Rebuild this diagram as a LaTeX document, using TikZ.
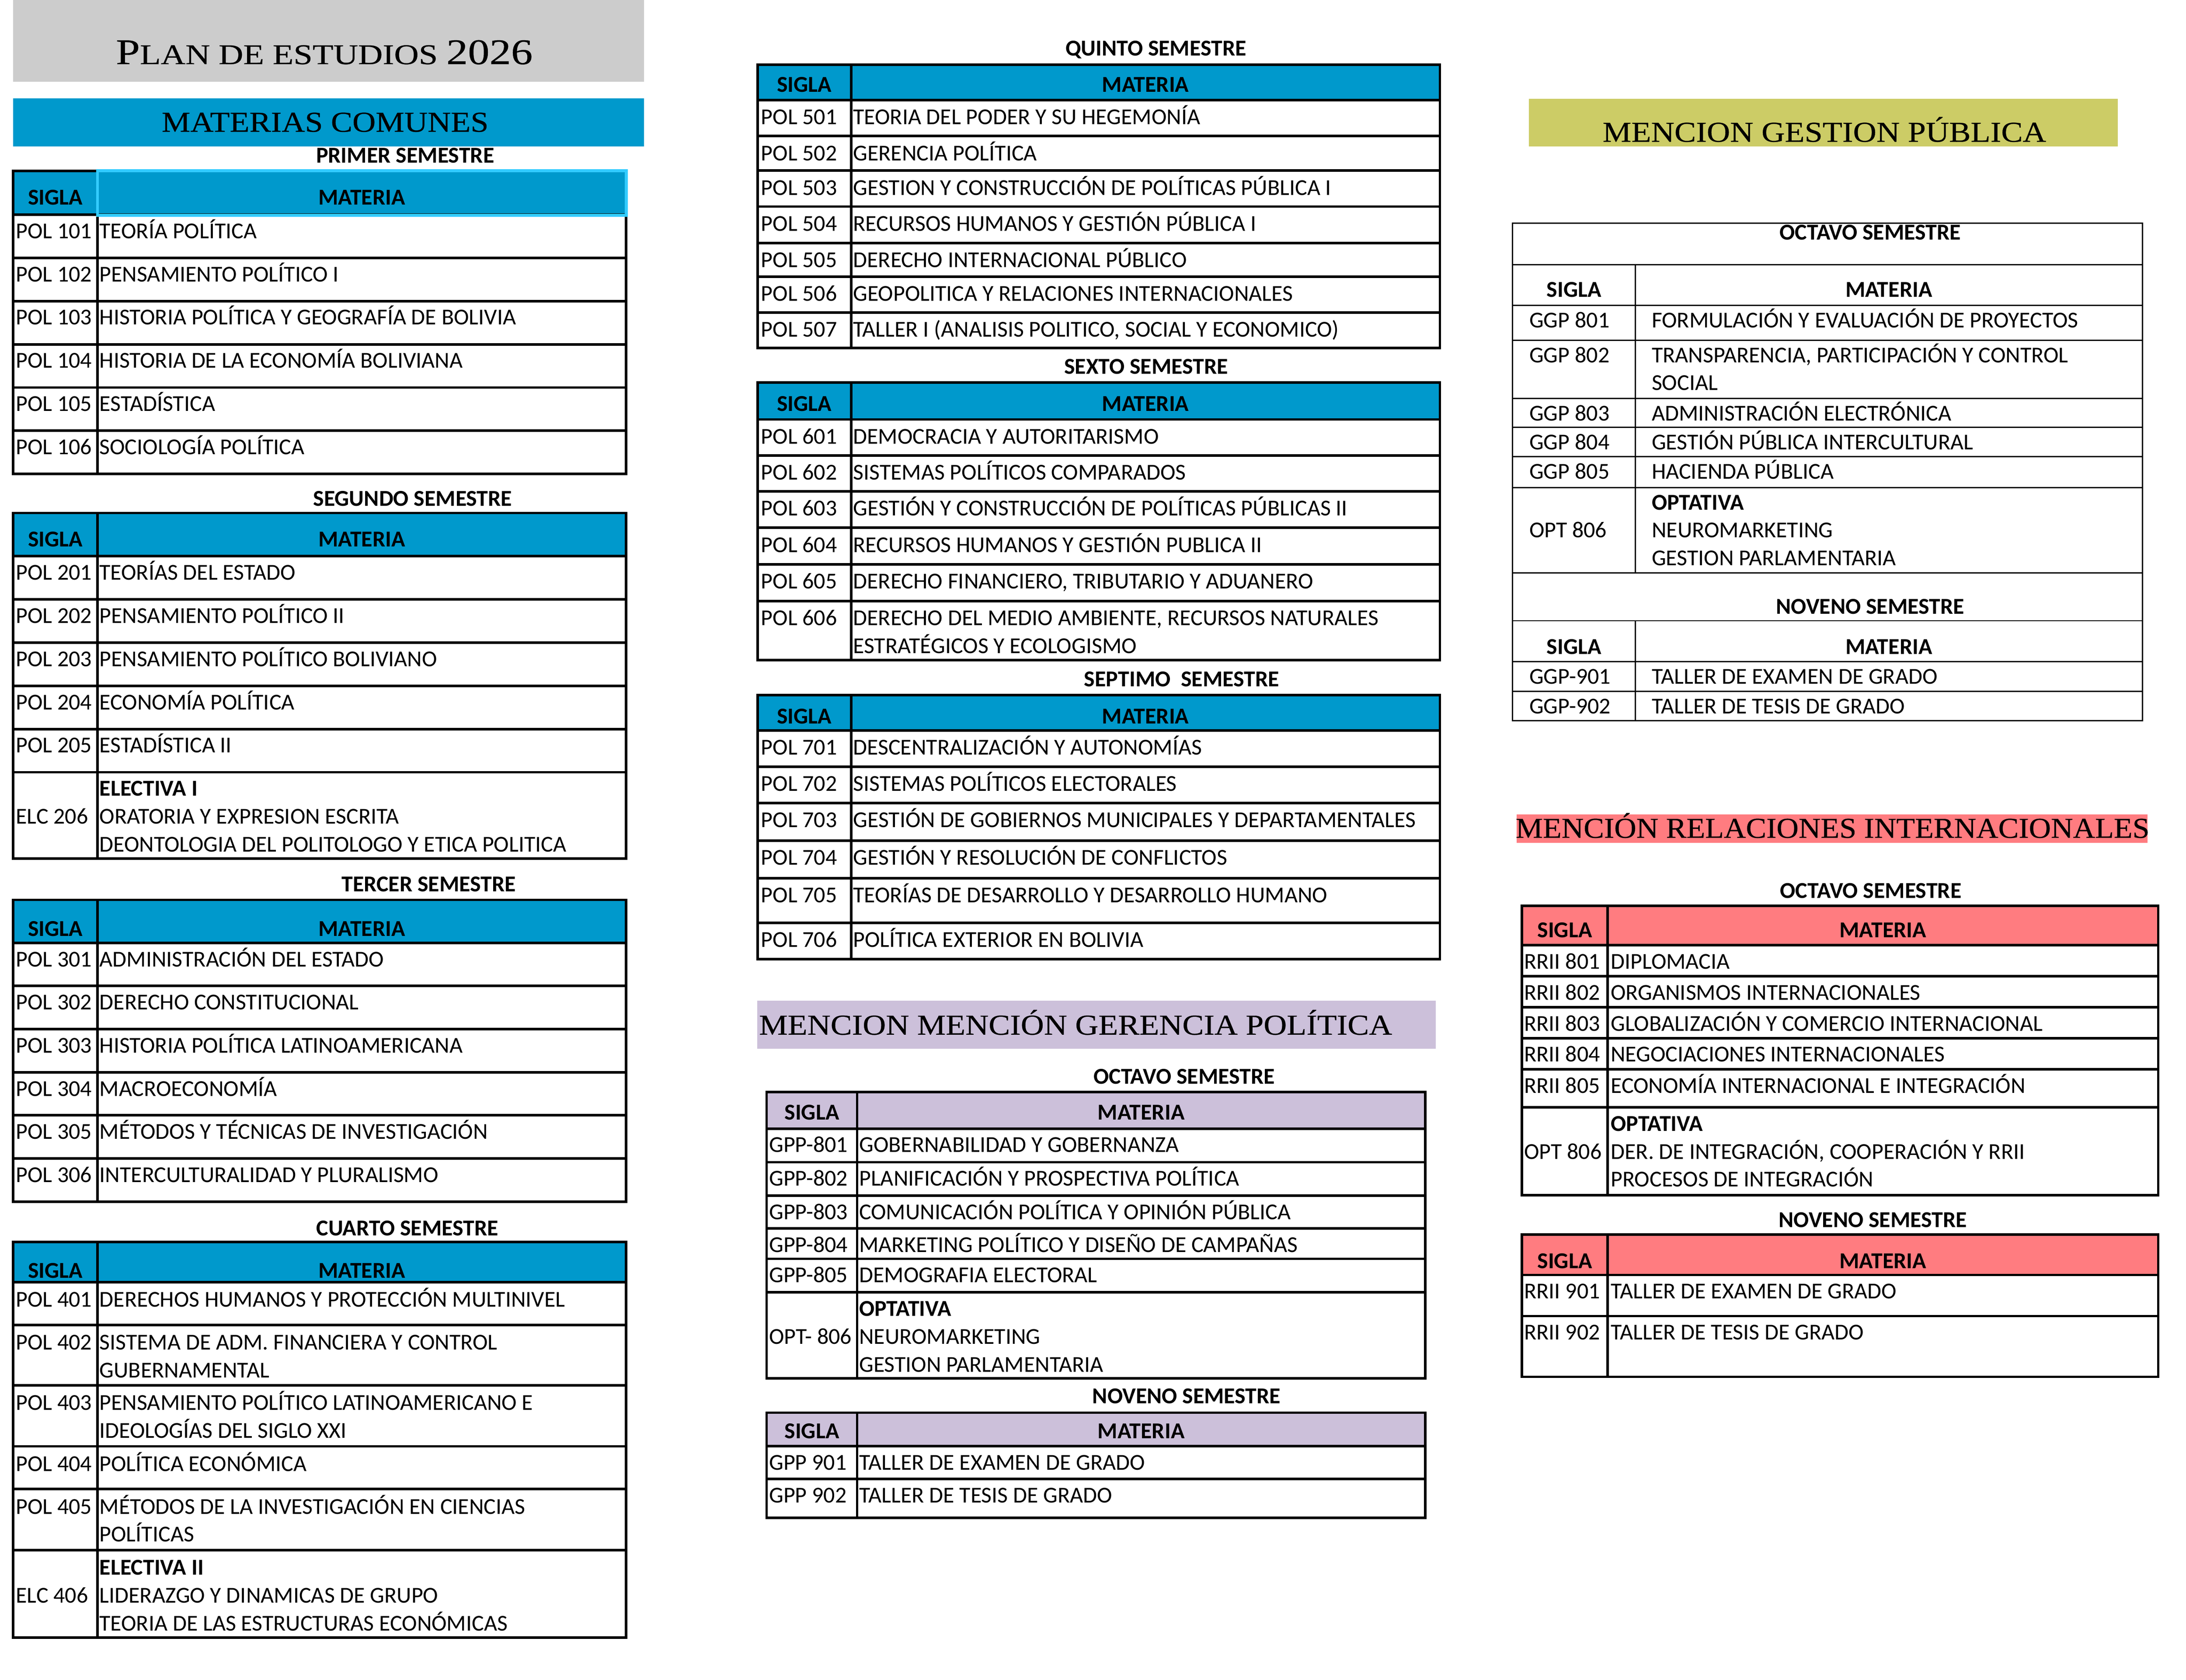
\documentclass[tikz,border=0pt]{standalone}
\usepackage{fontspec}
\setmainfont{Carlito}
\newfontfamily\serifh[FakeBold=0.4]{Liberation Serif}
\usepackage{graphicx}
\usepackage{tikz}

\definecolor{grisplan}{HTML}{CCCCCC}
\definecolor{azul}{HTML}{0099CC}
\definecolor{celeste}{HTML}{33CCFF}
\definecolor{oliva}{HTML}{CCCC66}
\definecolor{lila}{HTML}{CCC0DA}
\definecolor{rosa}{HTML}{FF7C80}

\tikzset{
  rejilla/.style={draw=black, line width=1.8pt},
  fina/.style={draw=black, line width=0.9pt},
  linea/.style={rejilla},
  txt/.style={anchor=base west, inner sep=0pt, font=\fontsize{16.3}{20}\selectfont},
  cab/.style={anchor=base, inner sep=0pt, font=\bfseries\fontsize{16.3}{20}\selectfont},
  banda/.style={anchor=base, inner sep=0pt, font=\serifh\fontsize{20.7}{24}\selectfont}
}

\newcommand{\dos}[2]{\vtop{\hbox{#1}\hbox{#2}}}
\newcommand{\tres}[3]{\vtop{\hbox{#1}\hbox{#2}\hbox{#3}}}
% cabecera SIGLA / MATERIA
\newcommand{\cabecera}[4]{%
  \filldraw[linea, fill=\relleno] (\xa,#2) rectangle (\xb,#3) (\xb,#2) rectangle (\xc,#3);
  \node[cab] (#1s) at ({(\xa+\xb)/2},#4) {SIGLA};
  \node[cab] (#1m) at ({(\xb+\xc)/2},#4) {MATERIA};
}
% una fila: [extra sigla] nombre, arriba, abajo, sigla, materia
\newcommand{\fila}[6][0]{%
  \draw[linea] (\xa,#3) rectangle (\xb,#4) (\xb,#3) rectangle (\xc,#4);
  \node[txt] (#2s) at (\xa+\dsig,#3+\dy+#1) {#5};
  \node[txt] (#2m) at (\xb+\dmat,#3+\dy) {#6};
}

\begin{document}
\begin{tikzpicture}[x=1pt,y=-1pt]
\useasboundingbox (0,0) rectangle (1568,1205);

% titulo y materias comunes
\fill[grisplan] (9.4,0) rectangle (461.9,58.7);
\node[anchor=base, inner sep=0pt] (titulo) at (232.6,46) {\serifh\scalebox{1.195}[1]{\fontsize{25.9}{30}\selectfont P\fontsize{20.5}{24}\selectfont LAN DE ESTUDIOS \fontsize{25.9}{30}\selectfont 2026}};
\fill[azul] (9.4,70.5) rectangle (461.9,105.1);
\node[banda] (comunes) at (233.2,94.5) {\scalebox{1.117}[1]{MATERIAS COMUNES}};

\def\xa{9.4}\def\xb{70}\def\xc{449}\def\dsig{1.8}\def\dmat{1.2}\def\dy{17}\def\relleno{azul}
\node[cab] (sem1) at (290.6,116.9) {PRIMER SEMESTRE};
\cabecera{t1}{122.5}{154}{147}
\foreach \ya/\yb/\s/\m [count=\i] in {154/185/POL 101/TEORÍA POLÍTICA, 185/216/POL 102/PENSAMIENTO POLÍTICO I,
  216/247/POL 103/HISTORIA POLÍTICA Y GEOGRAFÍA DE BOLIVIA, 247/278/POL 104/HISTORIA DE LA ECONOMÍA BOLIVIANA,
  278/309/POL 105/ESTADÍSTICA, 309/340/POL 106/SOCIOLOGÍA POLÍTICA}
  {\fila{t1r\i}{\ya}{\yb}{\s}{\m}}
\draw[celeste, line width=2pt] (70,122.5) rectangle (449.2,154.4);

\node[cab] (sem2) at (296,363) {SEGUNDO SEMESTRE};
\cabecera{t2}{368}{399}{392}
\foreach \ya/\yb/\s/\m [count=\i] in {399/430/POL 201/TEORÍAS DEL ESTADO, 430/461/POL 202/PENSAMIENTO POLÍTICO II,
  461/492/POL 203/PENSAMIENTO POLÍTICO BOLIVIANO, 492/523/POL 204/ECONOMÍA POLÍTICA, 523/554/POL 205/ESTADÍSTICA II}
  {\fila{t2r\i}{\ya}{\yb}{\s}{\m}}
\fila[20]{t2r6}{554}{616}{ELC 206}{\tres{\textbf{ELECTIVA I}}{ORATORIA Y EXPRESION ESCRITA}{DEONTOLOGIA DEL POLITOLOGO Y ETICA POLITICA}}

\node[cab] (sem3) at (307.5,639.5) {TERCER SEMESTRE};
\cabecera{t3}{645.5}{676.5}{671.7}
\foreach \ya/\yb/\s/\m [count=\i] in {676.5/707.2/POL 301/ADMINISTRACIÓN DEL ESTADO, 707.2/738.2/POL 302/DERECHO CONSTITUCIONAL,
  738.2/769.3/POL 303/HISTORIA POLÍTICA LATINOAMERICANA, 769.3/800/POL 304/MACROECONOMÍA,
  800/831/POL 305/MÉTODOS Y TÉCNICAS DE INVESTIGACIÓN, 831/862.1/POL 306/INTERCULTURALIDAD Y PLURALISMO}
  {\fila{t3r\i}{\ya}{\yb}{\s}{\m}}

\node[cab] (sem4) at (292.2,886.5) {CUARTO SEMESTRE};
\def\dy{17.8}
\cabecera{t4}{890.9}{919.7}{916.7}
\foreach \ya/\yb/\s/\m [count=\i] in {919.7/950.4/POL 401/DERECHOS HUMANOS Y PROTECCIÓN MULTINIVEL,
  950.4/993.8/POL 402/{\dos{SISTEMA DE ADM. FINANCIERA Y CONTROL}{GUBERNAMENTAL}},
  993.8/1037.5/POL 403/{\dos{PENSAMIENTO POLÍTICO LATINOAMERICANO E}{IDEOLOGÍAS DEL SIGLO XXI}},
  1037.5/1068.2/POL 404/POLÍTICA ECONÓMICA,
  1068.2/1112/POL 405/{\dos{MÉTODOS DE LA INVESTIGACIÓN EN CIENCIAS}{POLÍTICAS}}}
  {\fila{t4r\i}{\ya}{\yb}{\s}{\m}}
\fila[20]{t4r6}{1112}{1174.8}{ELC 406}{\tres{\textbf{ELECTIVA II}}{LIDERAZGO Y DINAMICAS DE GRUPO}{TEORIA DE LAS ESTRUCTURAS ECONÓMICAS}}

% quinto a septimo
\def\xa{543.4}\def\xb{610.5}\def\xc{1032.8}\def\dsig{2.3}\def\dmat{1.3}\def\dy{17.5}
\node[cab] (sem5) at (829.1,40) {QUINTO SEMESTRE};
\cabecera{t5}{46.3}{71.8}{66}
\foreach \ya/\yb/\s/\m [count=\i] in {71.8/97.6/POL 501/TEORIA DEL PODER Y SU HEGEMONÍA, 97.6/122.4/POL 502/GERENCIA POLÍTICA,
  122.4/148.2/POL 503/GESTION Y CONSTRUCCIÓN DE POLÍTICAS PÚBLICA I, 148.2/174.3/POL 504/RECURSOS HUMANOS Y GESTIÓN PÚBLICA I,
  174.3/198.4/POL 505/DERECHO INTERNACIONAL PÚBLICO, 198.4/224.2/POL 506/GEOPOLITICA Y RELACIONES INTERNACIONALES,
  224.2/249.7/POL 507/{TALLER I (ANALISIS POLITICO, SOCIAL Y ECONOMICO)}}
  {\fila{t5r\i}{\ya}{\yb}{\s}{\m}}

\node[cab] (sem6) at (822.1,268.2) {SEXTO SEMESTRE};
\cabecera{t6}{274.5}{300.9}{295}
\foreach \ya/\yb/\s/\m [count=\i] in {300.9/326.7/POL 601/DEMOCRACIA Y AUTORITARISMO, 326.7/352.5/POL 602/SISTEMAS POLÍTICOS COMPARADOS,
  352.5/378.6/POL 603/GESTIÓN Y CONSTRUCCIÓN DE POLÍTICAS PÚBLICAS II, 378.6/404.8/POL 604/RECURSOS HUMANOS Y GESTIÓN PUBLICA II,
  404.8/431.2/POL 605/{DERECHO FINANCIERO, TRIBUTARIO Y ADUANERO},
  431.2/473.6/POL 606/{\dos{DERECHO DEL MEDIO AMBIENTE, RECURSOS NATURALES}{ESTRATÉGICOS Y ECOLOGISMO}}}
  {\fila{t6r\i}{\ya}{\yb}{\s}{\m}}

\node[cab] (sem7) at (847.6,492.4) {SEPTIMO\ \ SEMESTRE};
\cabecera{t7}{498.7}{524}{519}
\foreach \ya/\yb/\s/\m [count=\i] in {524/550/POL 701/DESCENTRALIZACIÓN Y AUTONOMÍAS, 550/576/POL 702/SISTEMAS POLÍTICOS ELECTORALES,
  576/603/POL 703/GESTIÓN DE GOBIERNOS MUNICIPALES Y DEPARTAMENTALES, 603/630/POL 704/GESTIÓN Y RESOLUCIÓN DE CONFLICTOS,
  630/662/POL 705/TEORÍAS DE DESARROLLO Y DESARROLLO HUMANO, 662/688/POL 706/POLÍTICA EXTERIOR EN BOLIVIA}
  {\fila{t7r\i}{\ya}{\yb}{\s}{\m}}

% mencion gerencia politica
\fill[lila] (543.3,717.9) rectangle (1029.9,752.3);
\node[banda, anchor=base west] (gerencia) at (544.3,742.2) {\scalebox{1.114}[1]{MENCION MENCIÓN GERENCIA POLÍTICA}};
\def\xa{549.9}\def\xb{614.8}\def\xc{1022.3}\def\dsig{1.6}\def\dy{17}\def\relleno{lila}
\node[cab] (gp8) at (849.4,777.6) {OCTAVO SEMESTRE};
\cabecera{gp8h}{783.3}{809.6}{803.4}
\foreach \ya/\yb/\s/\m [count=\i] in {809.6/833.7/GPP-801/GOBERNABILIDAD Y GOBERNANZA, 833.7/857.7/GPP-802/PLANIFICACIÓN Y PROSPECTIVA POLÍTICA,
  857.7/881.2/GPP-803/COMUNICACIÓN POLÍTICA Y OPINIÓN PÚBLICA, 881.2/903/GPP-804/MARKETING POLÍTICO Y DISEÑO DE CAMPAÑAS,
  903/927.1/GPP-805/DEMOGRAFIA ELECTORAL}
  {\fila{gp8r\i}{\ya}{\yb}{\s}{\m}}
\fila[20]{gp8r6}{927.1}{988.8}{OPT- 806}{\tres{\textbf{OPTATIVA}}{NEUROMARKETING}{GESTION PARLAMENTARIA}}

\node[cab] (gp9) at (851.1,1006.8) {NOVENO SEMESTRE};
\cabecera{gp9h}{1013.4}{1037.4}{1031.8}
\fila{gp9r1}{1037.4}{1060.9}{GPP 901}{TALLER DE EXAMEN DE GRADO}
\fila{gp9r2}{1060.9}{1088.9}{GPP 902}{TALLER DE TESIS DE GRADO}

% mencion gestion publica
\fill[oliva] (1096.8,70.9) rectangle (1519.1,105);
\node[banda] (gestion) at (1308.6,101.7) {\scalebox{1.12}[1]{MENCION GESTION PÚBLICA}};
\begin{scope}[linea/.style={fina}]
\def\xa{1085}\def\xb{1173}\def\xc{1536.7}\def\dsig{11.8}\def\dmat{11.6}\def\dy{16}\def\relleno{white}
\draw[linea] (\xa,160) rectangle (\xc,190);
\node[cab] (gg8) at (1341.5,172) {OCTAVO SEMESTRE};
\cabecera{gg8h}{190}{219.1}{213}
\foreach \ya/\yb/\s/\m [count=\i] in {219.1/244/GGP 801/FORMULACIÓN Y EVALUACIÓN DE PROYECTOS,
  244/285.8/GGP 802/{\dos{TRANSPARENCIA, PARTICIPACIÓN Y CONTROL}{SOCIAL}},
  285.8/306.5/GGP 803/ADMINISTRACIÓN ELECTRÓNICA, 306.5/327.6/GGP 804/GESTIÓN PÚBLICA INTERCULTURAL,
  327.6/349.7/GGP 805/HACIENDA PÚBLICA}
  {\fila{gg8r\i}{\ya}{\yb}{\s}{\m}}
\fila[20]{gg8r6}{349.7}{410.9}{OPT 806}{\tres{\textbf{OPTATIVA}}{NEUROMARKETING}{GESTION PARLAMENTARIA}}
\draw[linea] (\xa,410.9) rectangle (\xc,445.3);
\node[cab] (gg9) at (1341.5,440.5) {NOVENO SEMESTRE};
\cabecera{gg9h}{445.3}{474.7}{469.3}
\fila{gg9r1}{474.7}{496}{GGP-901}{TALLER DE EXAMEN DE GRADO}
\fila{gg9r2}{496}{517}{GGP-902}{TALLER DE TESIS DE GRADO}
\end{scope}

% mencion relaciones internacionales
\fill[rosa] (1088,584.3) rectangle (1540.5,604.7);
\node[banda] (relint) at (1314.5,601) {\scalebox{1.06}[1]{MENCIÓN RELACIONES INTERNACIONALES}};
\def\xa{1091.6}\def\xb{1153.1}\def\xc{1548.1}\def\dsig{1.5}\def\dmat{2.1}\def\dy{17}\def\relleno{rosa}
\node[cab] (ri8) at (1341.9,644.4) {OCTAVO SEMESTRE};
\cabecera{ri8h}{649.7}{678.1}{672.6}
\foreach \ya/\yb/\s/\m [count=\i] in {678.1/700.3/RRII 801/DIPLOMACIA, 700.3/722.5/RRII 802/ORGANISMOS INTERNACIONALES,
  722.5/744.7/RRII 803/GLOBALIZACIÓN Y COMERCIO INTERNACIONAL, 744.7/767/RRII 804/NEGOCIACIONES INTERNACIONALES,
  767/794.4/RRII 805/ECONOMÍA INTERNACIONAL E INTEGRACIÓN}
  {\fila{ri8r\i}{\ya}{\yb}{\s}{\m}}
\fila[20]{ri8r6}{794.4}{857.4}{OPT 806}{\tres{\textbf{OPTATIVA}}{DER. DE INTEGRACIÓN, COOPERACIÓN Y RRII}{PROCESOS DE INTEGRACIÓN}}

\node[cab] (ri9) at (1343.4,880.4) {NOVENO SEMESTRE};
\cabecera{ri9h}{885.7}{914.6}{910}
\fila{ri9r1}{914.6}{944.1}{RRII 901}{TALLER DE EXAMEN DE GRADO}
\fila{ri9r2}{944.1}{987.7}{RRII 902}{TALLER DE TESIS DE GRADO}
\end{tikzpicture}
\end{document}
